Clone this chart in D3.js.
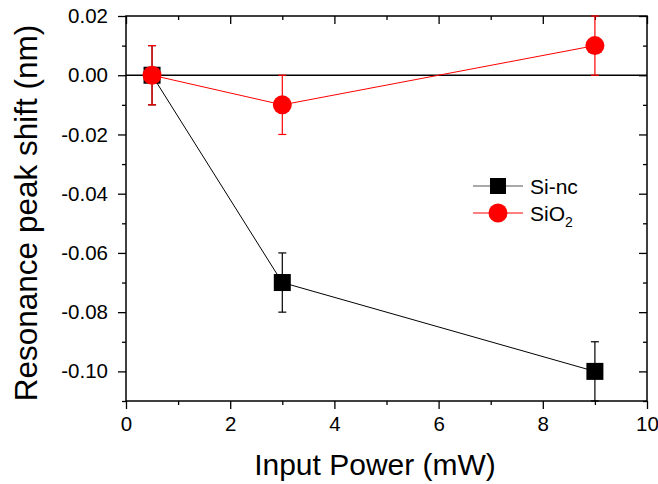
<!DOCTYPE html>
<html>
<head>
<meta charset="utf-8">
<script src="https://cdn.jsdelivr.net/npm/d3@7"></script>
<style>
  body { margin: 0; background: #fff; }
  svg { display: block; font-family: Arial, "Liberation Sans", sans-serif; }
</style>
</head>
<body>
<svg id="chart" width="658" height="484"></svg>
<script>
// data
const power = [0.5, 3, 9];
const siNc = [0, -0.07, -0.10];
const siNcErr = [0.01, 0.01, 0.01];
const sio2 = [0, -0.01, 0.01];
const sio2Err = [0.01, 0.01, 0.01];

const xMajor = [0, 2, 4, 6, 8, 10];
const xMinor = [1, 3, 5, 7, 9];
const yMajor = [0.02, 0.00, -0.02, -0.04, -0.06, -0.08, -0.10];
const yMinor = [0.01, -0.01, -0.03, -0.05, -0.07, -0.09, -0.11];

const svg = d3.select(`#chart`);
const plotL = 126, plotR = 647, plotT = 16, plotB = 401;

const x = d3.scaleLinear().domain([0, 10]).range([plotL, plotR]);
const y = d3.scaleLinear().domain([-0.11, 0.02]).range([plotB, plotT]);

const fmtY = d => d === 0 ? `0.00` : d3.format(`.2f`)(d).replace(`−`, `-`);

// axes
const axes = svg.append(`g`).attr(`class`, `axes`);

const styleAxis = g => {
  g.select(`.domain`).remove();
  g.selectAll(`line`).attr(`stroke`, `#000`).attr(`stroke-width`, 1.3);
  g.selectAll(`text`).attr(`fill`, `#000`).style(`font-size`, `20.5px`);
  g.attr(`font-family`, null).attr(`font-size`, null);
};

axes.append(`g`).attr(`transform`, `translate(0,${plotB})`)
  .call(d3.axisBottom(x).tickValues(xMajor).tickSize(8).tickPadding(7).tickFormat(d3.format(`d`)))
  .call(styleAxis);
axes.append(`g`).attr(`transform`, `translate(0,${plotB})`)
  .call(d3.axisBottom(x).tickValues(xMinor).tickSize(4).tickFormat(``))
  .call(styleAxis);
axes.append(`g`).attr(`transform`, `translate(${plotL},0)`)
  .call(d3.axisLeft(y).tickValues(yMajor).tickSize(8).tickPadding(10).tickFormat(fmtY))
  .call(styleAxis);
axes.append(`g`).attr(`transform`, `translate(${plotL},0)`)
  .call(d3.axisLeft(y).tickValues(yMinor).tickSize(4).tickFormat(``))
  .call(styleAxis);

// mirrored ticks pointing inward
axes.append(`g`).attr(`transform`, `translate(0,${plotT})`)
  .call(d3.axisTop(x).tickValues(xMajor).tickSize(-8).tickFormat(``))
  .call(styleAxis);
axes.append(`g`).attr(`transform`, `translate(0,${plotT})`)
  .call(d3.axisTop(x).tickValues(xMinor).tickSize(-4).tickFormat(``))
  .call(styleAxis);
axes.append(`g`).attr(`transform`, `translate(${plotR},0)`)
  .call(d3.axisRight(y).tickValues(yMajor).tickSize(-8).tickFormat(``))
  .call(styleAxis);
axes.append(`g`).attr(`transform`, `translate(${plotR},0)`)
  .call(d3.axisRight(y).tickValues(yMinor).tickSize(-4).tickFormat(``))
  .call(styleAxis);

// frame
svg.append(`rect`)
  .attr(`x`, plotL).attr(`y`, plotT)
  .attr(`width`, plotR - plotL).attr(`height`, plotB - plotT)
  .attr(`fill`, `none`).attr(`stroke`, `#000`).attr(`stroke-width`, 1.5);

// zero line
svg.append(`line`)
  .attr(`x1`, plotL).attr(`x2`, plotR)
  .attr(`y1`, y(0)).attr(`y2`, y(0))
  .attr(`stroke`, `#000`).attr(`stroke-width`, 1.5);

const line = d3.line().x(d => x(d[0])).y(d => y(d[1]));

const drawSeries = (vals, errs, color, shape) => {
  const pts = power.map((p, i) => [p, vals[i], errs[i]]);
  const g = svg.append(`g`);

  g.append(`path`)
    .datum(pts)
    .attr(`d`, line)
    .attr(`fill`, `none`)
    .attr(`stroke`, color)
    .attr(`stroke-width`, 1);

  const eb = g.selectAll(`g.err`).data(pts).enter().append(`g`).attr(`class`, `err`)
    .attr(`stroke`, color).attr(`stroke-width`, 1.2);
  eb.append(`line`)
    .attr(`x1`, d => x(d[0])).attr(`x2`, d => x(d[0]))
    .attr(`y1`, d => y(d[1] + d[2])).attr(`y2`, d => y(d[1] - d[2]));
  eb.append(`line`)
    .attr(`x1`, d => x(d[0]) - 4).attr(`x2`, d => x(d[0]) + 4)
    .attr(`y1`, d => y(d[1] + d[2])).attr(`y2`, d => y(d[1] + d[2]));
  eb.append(`line`)
    .attr(`x1`, d => x(d[0]) - 4).attr(`x2`, d => x(d[0]) + 4)
    .attr(`y1`, d => y(d[1] - d[2])).attr(`y2`, d => y(d[1] - d[2]));

  if (shape === `square`) {
    g.selectAll(`rect.m`).data(pts).enter().append(`rect`).attr(`class`, `m`)
      .attr(`x`, d => x(d[0]) - 8.5).attr(`y`, d => y(d[1]) - 8.5)
      .attr(`width`, 17).attr(`height`, 17)
      .attr(`fill`, color);
  } else {
    g.selectAll(`circle.m`).data(pts).enter().append(`circle`).attr(`class`, `m`)
      .attr(`cx`, d => x(d[0])).attr(`cy`, d => y(d[1]))
      .attr(`r`, 9.5)
      .attr(`fill`, color);
  }
};

drawSeries(siNc, siNcErr, `#000`, `square`);
drawSeries(sio2, sio2Err, `#ff0000`, `circle`);

// legend
const legend = svg.append(`g`).attr(`transform`, `translate(473,186)`);
legend.append(`line`).attr(`x1`, 0).attr(`x2`, 50).attr(`y1`, 0).attr(`y2`, 0)
  .attr(`stroke`, `#555`).attr(`stroke-width`, 1.2);
legend.append(`rect`).attr(`x`, 17).attr(`y`, -8).attr(`width`, 16).attr(`height`, 16).attr(`fill`, `#000`);
legend.append(`text`).attr(`x`, 57).attr(`y`, 7.5).style(`font-size`, `21px`).text(`Si-nc`);

legend.append(`line`).attr(`x1`, 0).attr(`x2`, 50).attr(`y1`, 27).attr(`y2`, 27)
  .attr(`stroke`, `#ff0000`).attr(`stroke-width`, 1);
legend.append(`circle`).attr(`cx`, 25).attr(`cy`, 27).attr(`r`, 9.5).attr(`fill`, `#ff0000`);
const t2 = legend.append(`text`).attr(`x`, 57).attr(`y`, 34.5).style(`font-size`, `21px`);
t2.append(`tspan`).text(`SiO`);
t2.append(`tspan`).attr(`dy`, 6).style(`font-size`, `14px`).text(`2`);

// axis titles
svg.append(`text`)
  .attr(`x`, 375).attr(`y`, 475)
  .attr(`text-anchor`, `middle`)
  .style(`font-size`, `30px`)
  .text(`Input Power (mW)`);

svg.append(`text`)
  .attr(`transform`, `translate(36.5,213) rotate(-90)`)
  .attr(`text-anchor`, `middle`)
  .style(`font-size`, `31.5px`)
  .text(`Resonance peak shift (nm)`);
</script>
</body>
</html>
